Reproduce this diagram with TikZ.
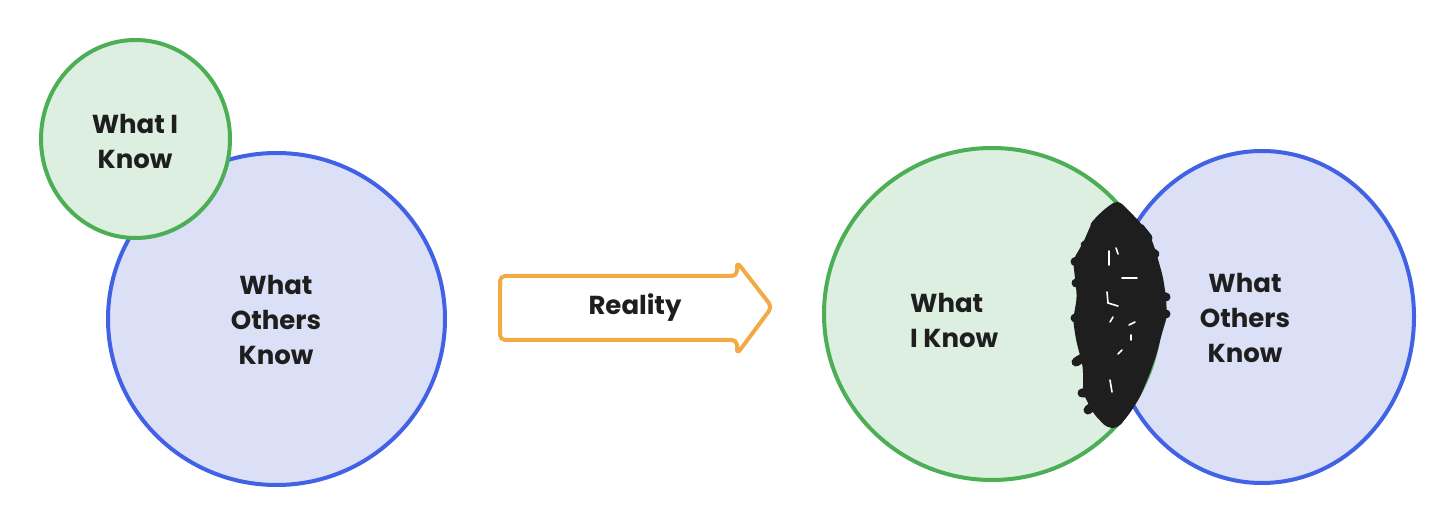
\documentclass[tikz,border=0pt]{standalone}
\usepackage{fontspec}
\setmainfont{Poppins}
\usetikzlibrary{shapes.geometric}
\definecolor{gstroke}{HTML}{4CAE55}
\definecolor{gfill}{HTML}{DCEFE0}
\definecolor{bstroke}{HTML}{4262E6}
\definecolor{bfill}{HTML}{DCE0F6}
\definecolor{ostroke}{HTML}{F2AA45}
\definecolor{ink}{HTML}{1E1E1E}
\tikzset{
  gcirc/.style={ellipse, draw=gstroke, fill=gfill, line width=4pt, inner sep=0pt},
  bcirc/.style={ellipse, draw=bstroke, fill=bfill, line width=4pt, inner sep=0pt},
  lbl/.style={text=ink, font=\fontsize{26}{35}\selectfont\bfseries, align=center, inner sep=0pt},
  lbll/.style={lbl, align=left},
}
\begin{document}
\begin{tikzpicture}[x=1pt,y=-1pt]
\useasboundingbox (0,0) rectangle (1456,526);
% left
\node[bcirc, minimum width=337pt, minimum height=332pt] (lb) at (276.5,319) {};
\node[gcirc, minimum width=189pt, minimum height=198pt] (lg) at (135.5,139) {};
\node[lbl] (lgt) at (135,141) {What I\\Know};
\node[lbl] (lbt) at (276,320) {What\\Others\\Know};
% arrow
\draw[ostroke, fill=white, line width=4pt, rounded corners=5pt, line join=round]
  (500,276) -- (737,276) -- (737,262) -- (772,307) -- (737,354) -- (737,340) -- (500,340) -- cycle;
\node[lbl] (arr) at (635,308) {Reality};
% right
\node[bcirc, minimum width=304pt, minimum height=332pt] (rb) at (1262,317) {};
\node[gcirc, minimum width=336pt, minimum height=332pt] (rg) at (992,314) {};
\node[lbll, anchor=west] (rgt) at (910,320) {What\\I Know};
\node[lbl] (rbt) at (1245,318) {What\\Others\\Know};
% scribble
\fill[ink, rounded corners=6pt]
  (1118,200) -- (1138,220) -- (1150,235) -- (1156,252) -- (1163,277) -- (1166,297)
  -- (1167,317) -- (1162,333) -- (1157,353) -- (1150,373) -- (1140,397) -- (1130,413)
  -- (1118,428) -- (1107,428) -- (1093,413) -- (1083,393) -- (1083,367) -- (1076,340)
  -- (1073,320) -- (1077,297) -- (1073,260) -- (1083,243) -- (1093,220) -- (1107,207) -- cycle;
\begin{scope}[ink, line width=9pt, line cap=round]
  \draw (1075,262) -- (1098,262);
  \draw (1076,283) -- (1095,280);
  \draw (1075,318) -- (1096,316);
  \draw (1076,362) .. controls (1085,356) .. (1100,360);
  \draw (1150,315) -- (1166,314);
  \draw (1150,296) -- (1166,297);
  \draw (1145,250) -- (1155,254);
  \draw (1140,228) -- (1148,238);
  \draw (1082,393) -- (1100,392);
  \draw (1088,410) -- (1100,400);
  \draw (1095,225) -- (1110,215);
  \draw (1085,245) -- (1100,240);
\end{scope}
\begin{scope}[white, line width=1.6pt, line cap=round]
  \draw (1109,251) -- (1109,265);
  \draw (1116,248) -- (1118,254);
  \draw (1122,278) -- (1137,278);
  \draw (1107,292) -- (1108,303) -- (1118,306);
  \draw (1110,322) -- (1113,317);
  \draw (1129,325) -- (1135,322);
  \draw (1118,354) -- (1122,350);
  \draw (1110,380) -- (1112,392);
  \draw (1131,335) -- (1131,340);
\end{scope}
\end{tikzpicture}
\end{document}
